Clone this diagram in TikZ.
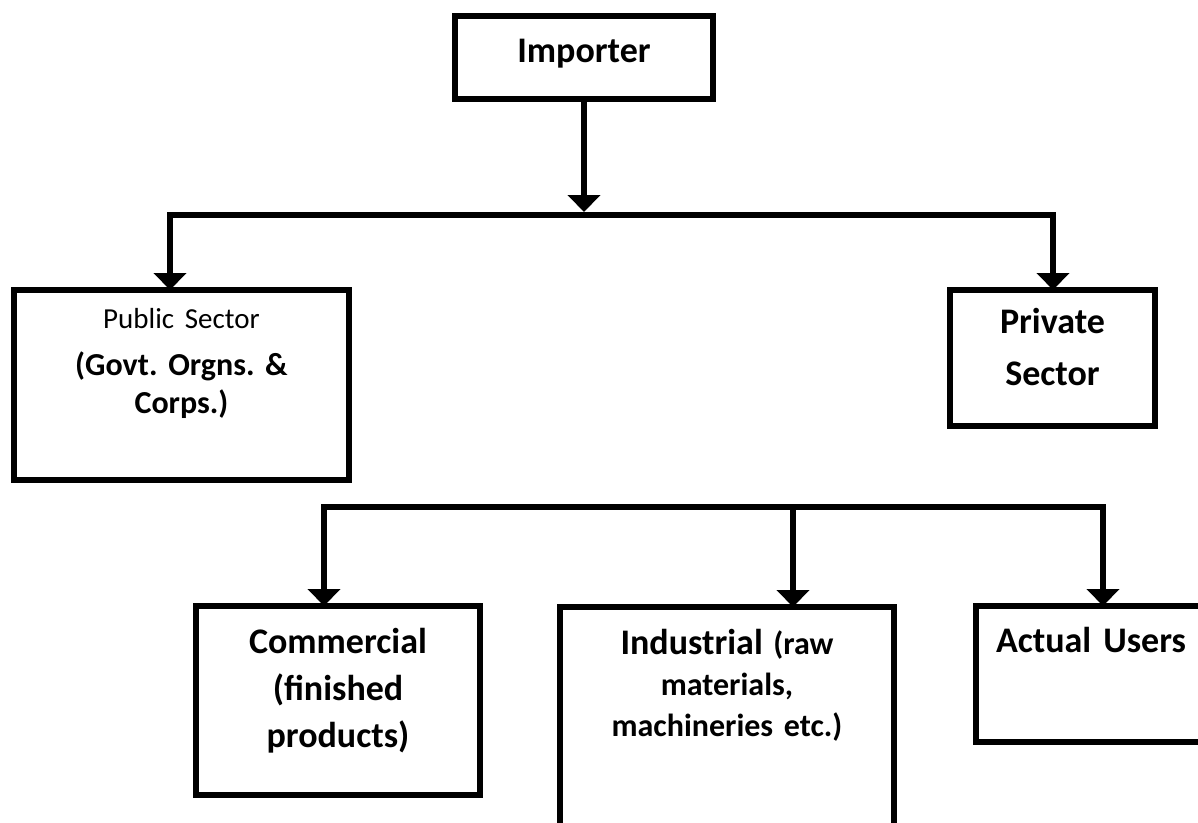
\documentclass[tikz,border=0pt]{standalone}
\usepackage{fontspec}
\setmainfont{Carlito}
\usetikzlibrary{arrows.meta}
\tikzset{box/.style={draw, line width=5.5pt, inner sep=0pt, outer sep=0pt, anchor=north west,
    align=center, font=\bfseries\fontsize{36}{47}\selectfont\frenchspacing},
  arr/.style={line width=6pt, -{Triangle[width=32pt,length=17pt]}},
  bar/.style={line width=6pt, line cap=rect}}

\begin{document}
\begin{tikzpicture}[x=1pt, y=-1pt]
                \useasboundingbox (0,0) rectangle (1198,822);
                \clip (0,0) rectangle (1198,822);
                \node[box, text width=258pt, text height=46pt, text depth=37pt] (imp) at (455,16) {Importer};
                \node[box, text width=335pt, text height=38pt, text depth=152pt,
                  font=\bfseries\fontsize{32}{40}\selectfont\frenchspacing] (pub) at (14,290)
                  {{\mdseries\fontsize{29}{36}\selectfont Public Sector}\\[7pt] (Govt. Orgns. \&\\[-2pt] Corps.)};
                \node[box, text width=205pt, text height=43pt, text depth=93pt] (priv) at (950,290) {Private\\[5pt] Sector};
                \node[box, text width=284pt, text height=47pt, text depth=142pt] (com) at (196,606) {Commercial\\ (finished\\ products)};
                \node[box, text width=334pt, text height=47pt, text depth=193pt,
                  font=\bfseries\fontsize{32}{41}\selectfont\frenchspacing] (ind) at (560,607)
                  {{\fontsize{36}{41}\selectfont Industrial} (raw\\ materials,\\ machineries etc.)};
                \node[box, text width=230pt, text height=46pt, text depth=90pt] (act) at (976,606) {Actual Users};
                \coordinate (j1) at (584,212);
                \coordinate (b1l) at (170,215);
                \coordinate (b1r) at (1053,215);
                \coordinate (b2l) at (324,507);
                \coordinate (b2m) at (793,507);
                \coordinate (b2r) at (1103,507);
                \draw[arr] (imp) -- (j1);
                \draw[bar] (b1l) -- (b1r);
                \draw[arr] (b1l) -- (b1l |- pub.north);
                \draw[arr] (b1r) -- (b1r |- priv.north);
                \draw[bar] (b2l) -- (b2r);
                \draw[arr] (b2l) -- (b2l |- com.north);
                \draw[arr] (b2m) -- (b2m |- ind.north);
                \draw[arr] (b2r) -- (b2r |- act.north);
              \end{tikzpicture}
\end{document}
